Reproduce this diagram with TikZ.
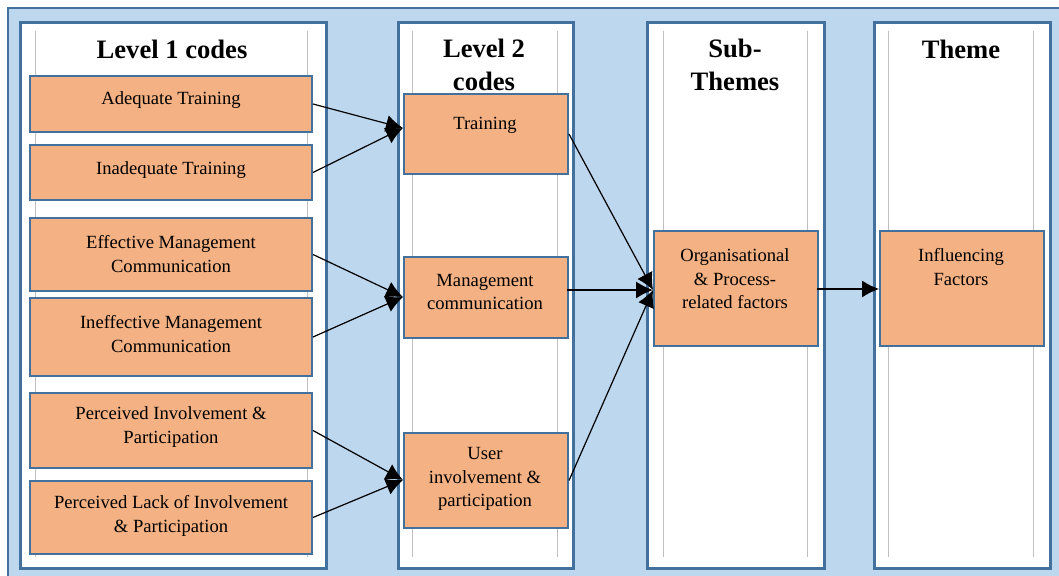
\documentclass[tikz,border=0pt]{standalone}
\usepackage{fontspec}
\setmainfont{Liberation Serif}
\usetikzlibrary{arrows.meta}
\definecolor{bgblue}{HTML}{BDD7EE}
\definecolor{edgeblue}{HTML}{41719C}
\definecolor{codefill}{HTML}{F4B183}
\definecolor{guide}{HTML}{C0C0C0}
\begin{document}
\begin{tikzpicture}[x=0.5pt,y=-0.5pt,
  panel/.style={draw=edgeblue, line width=1.3pt, fill=white, inner sep=0pt, anchor=north west},
  codebox/.style={draw=edgeblue, line width=1pt, fill=codefill, inner sep=0pt, anchor=north west},
  guideline/.style={draw=guide, line width=0.5pt},
  bodytext/.style={align=center, inner sep=0pt, font=\fontsize{9.3}{11.7}\selectfont},
  headtext/.style={align=center, inner sep=0pt, font=\fontsize{13.3}{16.5}\selectfont\bfseries},
  conn/.style={draw=black, line width=0.6pt, -{Latex[length=8.5pt,width=8.5pt]}}
]
\useasboundingbox (0,0) rectangle (1059,576);
\clip (0,0) rectangle (1059,576);

% backdrop
\fill[bgblue] (8,8) rectangle (1080,600);
\draw[edgeblue, line width=1pt] (1080,8) -- (8,8) -- (8,600);

% column panels
\node[panel, minimum width=153pt, minimum height=273pt] (p1) at (19,21) {};
\node[panel, minimum width=87.5pt, minimum height=273pt] (p2) at (397,21) {};
\node[panel, minimum width=88.5pt, minimum height=273pt] (p3) at (646,21) {};
\node[panel, minimum width=88pt, minimum height=273pt] (p4) at (873,21) {};

% guide rules inside the panels
\foreach \gx in {35,307,412,557,663,807,888,1033}
  \draw[guideline] (\gx,31) -- (\gx,557);

% headings
\node[headtext] (h1) at (172,49) {Level 1 codes};
\node[headtext] (h2) at (484,65) {Level 2\\codes};
\node[headtext] (h3) at (735,65) {Sub-\\Themes};
\node[headtext] (h4) at (961,49) {Theme};

% level 1 codes
\node[codebox, minimum width=141pt, minimum height=28pt] (a1) at (29,75) {};
\node[codebox, minimum width=141pt, minimum height=27.5pt] (a2) at (29,144) {};
\node[codebox, minimum width=141pt, minimum height=36.5pt] (a3) at (29,217) {};
\node[codebox, minimum width=141pt, minimum height=39pt] (a4) at (29,297) {};
\node[codebox, minimum width=141pt, minimum height=37.5pt] (a5) at (29,392) {};
\node[codebox, minimum width=141pt, minimum height=36.5pt] (a6) at (29,480) {};

\node[bodytext] (ta1) at (171,100) {Adequate Training};
\node[bodytext] (ta2) at (171,170) {Inadequate Training};
\node[bodytext] (ta3) at (171,254) {Effective Management\\Communication};
\node[bodytext] (ta4) at (171,334) {Ineffective Management\\Communication};
\node[bodytext] (ta5) at (171,427) {Perceived Involvement \&\\Participation};
\node[bodytext] (ta6) at (171,516) {Perceived Lack of Involvement\\\& Participation};

% level 2 codes
\node[codebox, minimum width=82pt, minimum height=40pt] (b1) at (403,93) {};
\node[codebox, minimum width=82pt, minimum height=40.5pt] (b2) at (403,256) {};
\node[codebox, minimum width=82pt, minimum height=47.5pt] (b3) at (403,432) {};

\node[bodytext] (tb1) at (485,125) {Training};
\node[bodytext] (tb2) at (485,292) {Management\\communication};
\node[bodytext] (tb3) at (485,479) {User\\involvement \&\\participation};

% sub-theme and theme
\node[codebox, minimum width=82pt, minimum height=57.5pt] (c1) at (653,230) {};
\node[codebox, minimum width=82pt, minimum height=57.5pt] (d1) at (879,230) {};

\node[bodytext] (tc1) at (735,279) {Organisational\\\& Process-\\related factors};
\node[bodytext] (td1) at (961,267) {Influencing\\Factors};

% arrow meeting points
\coordinate (in1) at (403,128);
\coordinate (in2) at (403,297);
\coordinate (in3) at (403,480);
\coordinate (out2) at (567,290);
\coordinate (inc) at (653,290);
\coordinate (outc) at (817,289);
\coordinate (ind) at (879,289);

% connectors
\draw[conn] (a1.east) -- (in1);
\draw[conn] (a2.east) -- (in1);
\draw[conn] (a3.east) -- (in2);
\draw[conn] (a4.east) -- (in2);
\draw[conn] (a5.east) -- (in3);
\draw[conn] (a6.east) -- (in3);
\draw[conn] (b1.east) -- (inc);
\draw[conn] (out2) -- (inc);
\draw[conn] (b3.east) -- (inc);
\draw[conn] (outc) -- (ind);
\end{tikzpicture}
\end{document}
